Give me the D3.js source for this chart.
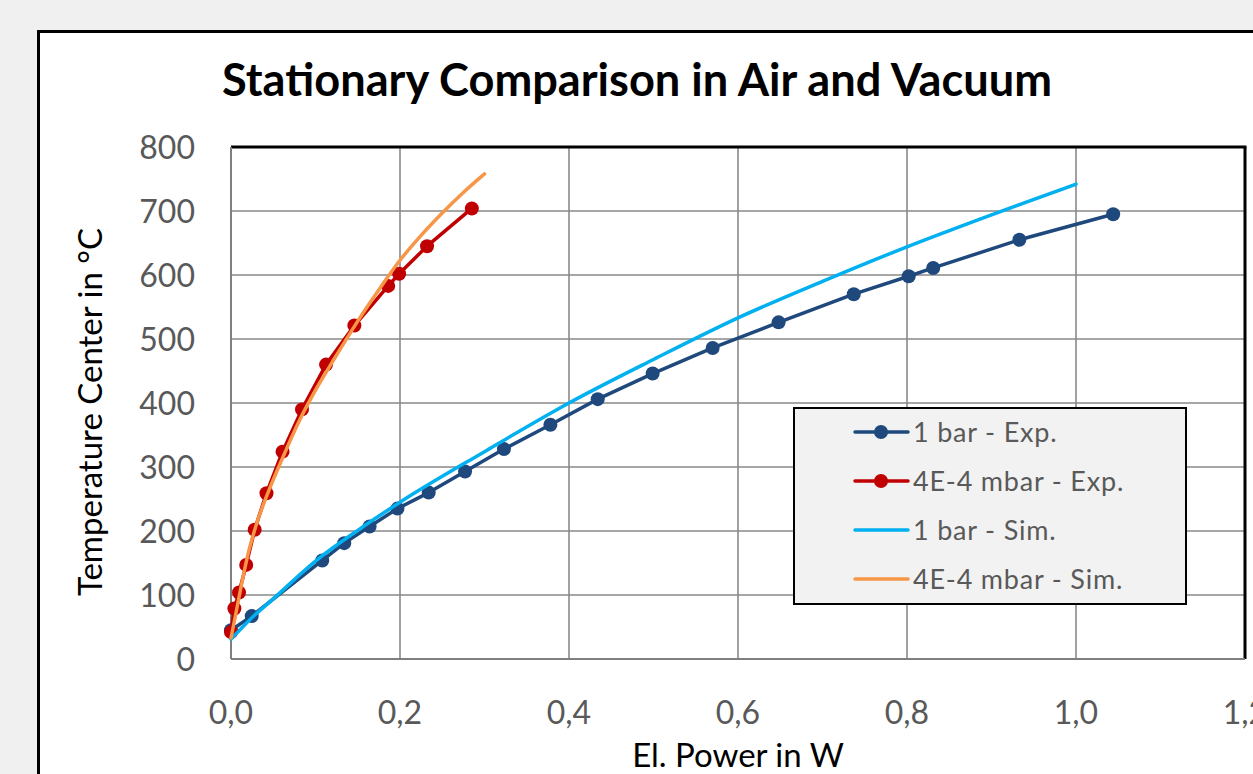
<!DOCTYPE html>
<html><head><meta charset="utf-8">
<script src="https://cdnjs.cloudflare.com/ajax/libs/d3/7.8.5/d3.min.js"></script>
<style>
html,body{margin:0;padding:0;background:#f0f0f0;overflow:hidden;}
svg{display:block;font-family:Lato,"Open Sans",sans-serif;}
</style></head>
<body>
<svg id="chart" width="1253" height="774"></svg>
<script>
// ---- data ----
const seriesNames = ["1 bar - Exp.", "4E-4 mbar - Exp.", "1 bar - Sim.", "4E-4 mbar - Sim."];
const airExpPower = [0, 0.0245, 0.108, 0.134, 0.164, 0.197, 0.234, 0.277, 0.323, 0.378, 0.434, 0.499, 0.570, 0.648, 0.737, 0.802, 0.831, 0.933, 1.044];
const airExpTemp  = [45, 67, 154, 181, 207, 235, 260, 293, 328, 366, 406, 446, 486, 526, 570, 598, 611, 655, 695];
const vacExpPower = [0, 0.004, 0.0095, 0.018, 0.028, 0.042, 0.061, 0.084, 0.1125, 0.146, 0.186, 0.199, 0.232, 0.285];
const vacExpTemp  = [42, 79, 104, 147, 202, 259, 324, 390, 460, 521, 583, 602, 645, 704];
const airSimPower = [0, 0.025, 0.05, 0.1, 0.15, 0.2, 0.3, 0.4, 0.5, 0.6, 0.7, 0.8, 0.9, 1.0];
const airSimTemp  = [31, 65, 94, 153, 201, 245, 324, 400, 468, 533, 590, 644, 694, 742];
const vacSimPower = [0, 0.005, 0.01, 0.02, 0.03, 0.045, 0.06, 0.08, 0.1, 0.125, 0.15, 0.175, 0.2, 0.225, 0.25, 0.275, 0.3];
const vacSimTemp  = [33, 66, 100, 163, 210, 264, 311, 370, 420, 475, 528, 577, 623, 662, 697, 729, 758];
const xTicks = [0, 0.2, 0.4, 0.6, 0.8, 1.0, 1.2];
const yTicks = [0, 100, 200, 300, 400, 500, 600, 700, 800];
const colors = ["#1f497d", "#c00000", "#00b0f0", "#f79646"];

// ---- layout ----
const svg = d3.select("#chart");
const L = 231, R = 1245, T = 147, B = 659;
const x = d3.scaleLinear().domain([0, 1.2]).range([L, R]);
const y = d3.scaleLinear().domain([0, 800]).range([B, T]);

// outer chart frame (cropped)
svg.append("rect").attr("x", 38.5).attr("y", 31.5).attr("width", 1400).attr("height", 900)
  .attr("fill", "#fff").attr("stroke", "#000").attr("stroke-width", 3);

// title
svg.append("text").attr("x", 637).attr("y", 96).attr("text-anchor", "middle")
  .attr("font-size", 46).attr("font-weight", 700).attr("fill", "#000")
  .attr("textLength", 830).attr("lengthAdjust", "spacingAndGlyphs")
  .text("Stationary Comparison in Air and Vacuum");

// gridlines
const grid = svg.append("g").attr("stroke", "#898989").attr("stroke-width", 1.6);
grid.selectAll(".gx").data(xTicks.filter(d => d > 0 && d < 1.2)).enter().append("line")
  .attr("x1", d => x(d)).attr("x2", d => x(d)).attr("y1", T).attr("y2", B);
grid.selectAll(".gy").data(yTicks.filter(d => d > 0 && d < 800)).enter().append("line")
  .attr("x1", L).attr("x2", R).attr("y1", d => y(d)).attr("y2", d => y(d));

// plot border: top/right black, left/bottom grey axes
svg.append("line").attr("x1", L).attr("x2", R + 1.5).attr("y1", T).attr("y2", T).attr("stroke", "#000").attr("stroke-width", 3);
svg.append("line").attr("x1", R).attr("x2", R).attr("y1", T).attr("y2", B).attr("stroke", "#000").attr("stroke-width", 3);
svg.append("line").attr("x1", L).attr("x2", L).attr("y1", T).attr("y2", B).attr("stroke", "#7f7f7f").attr("stroke-width", 2);
svg.append("line").attr("x1", L).attr("x2", R).attr("y1", B).attr("y2", B).attr("stroke", "#7f7f7f").attr("stroke-width", 2);

// tick labels
const fmt = d => d3.format(".1f")(d).replace(".", ",");
svg.append("g").selectAll("text").data(yTicks).enter().append("text")
  .attr("x", 195).attr("y", d => y(d)).attr("dy", "0.36em").attr("text-anchor", "end")
  .attr("font-size", 32).attr("fill", "#595959").text(d => d);
svg.append("g").selectAll("text").data(xTicks).enter().append("text")
  .attr("x", d => x(d)).attr("y", 724).attr("text-anchor", "middle")
  .attr("font-size", 32).attr("fill", "#595959").text(d => fmt(d));

// axis titles
svg.append("text").attr("x", 738).attr("y", 767).attr("text-anchor", "middle")
  .attr("font-size", 33).attr("fill", "#000").text("El. Power in W");
svg.append("text").attr("transform", "translate(102,412) rotate(-90)").attr("text-anchor", "middle")
  .attr("font-size", 33).attr("fill", "#000").text("Temperature Center in °C");

// series
const line = d3.line().x(d => x(d[0])).y(d => y(d[1]));
const smooth = d3.line().x(d => x(d[0])).y(d => y(d[1])).curve(d3.curveMonotoneX);
const zip = (a, b) => a.map((v, i) => [v, b[i]]);
const airExp = zip(airExpPower, airExpTemp), vacExp = zip(vacExpPower, vacExpTemp);
const airSim = zip(airSimPower, airSimTemp), vacSim = zip(vacSimPower, vacSimTemp);

function expSeries(data, c) {
  const g = svg.append("g");
  g.append("path").attr("d", line(data)).attr("fill", "none").attr("stroke", c).attr("stroke-width", 3.5).attr("stroke-linejoin", "round");
  g.selectAll("circle").data(data).enter().append("circle")
    .attr("cx", d => x(d[0])).attr("cy", d => y(d[1])).attr("r", 7).attr("fill", c);
}
expSeries(airExp, colors[0]);
expSeries(vacExp, colors[1]);
svg.append("path").attr("d", smooth(airSim)).attr("fill", "none").attr("stroke", colors[2]).attr("stroke-width", 3.5).attr("stroke-linecap", "round");
svg.append("path").attr("d", smooth(vacSim)).attr("fill", "none").attr("stroke", colors[3]).attr("stroke-width", 3.5).attr("stroke-linecap", "round");

// legend
const lg = svg.append("g");
lg.append("rect").attr("x", 794).attr("y", 408).attr("width", 392).attr("height", 196)
  .attr("fill", "#f2f2f2").attr("stroke", "#000").attr("stroke-width", 2);
seriesNames.forEach((n, i) => {
  const yy = 432 + i * 49;
  lg.append("line").attr("x1", 855).attr("x2", 908).attr("y1", yy).attr("y2", yy)
    .attr("stroke", colors[i]).attr("stroke-width", 3.5).attr("stroke-linecap", "round");
  if (i < 2) lg.append("circle").attr("cx", 881).attr("cy", yy).attr("r", 7).attr("fill", colors[i]);
  lg.append("text").attr("x", 913).attr("y", yy).attr("dy", "0.36em").attr("font-size", 27)
    .attr("fill", "#595959").attr("letter-spacing", 0.8).text(n);
});
</script>
</body></html>
